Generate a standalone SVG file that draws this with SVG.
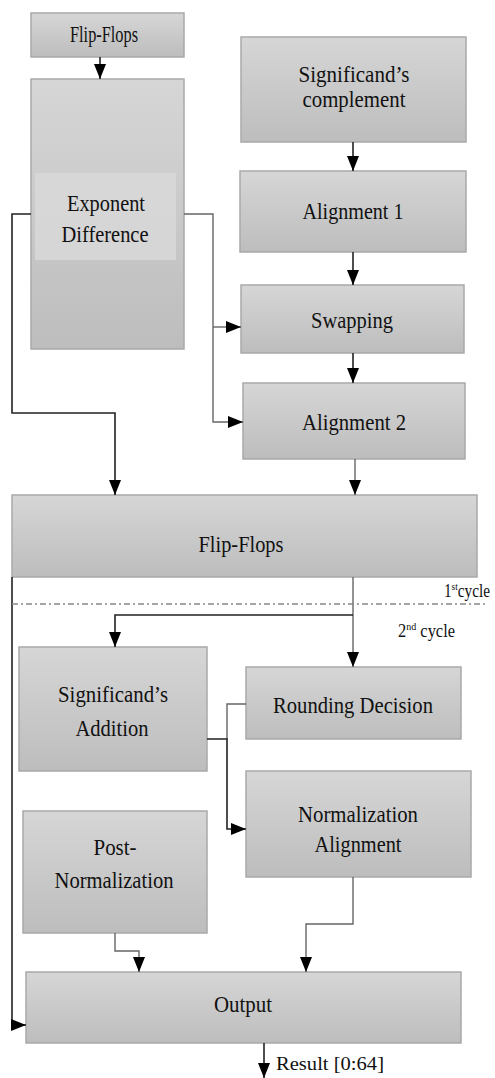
<svg xmlns="http://www.w3.org/2000/svg" width="495" height="1078" viewBox="0 0 495 1078">
<style>
.box{fill:url(#g);stroke:#a9a9a9;stroke-width:1.5}
.t{font-family:"Liberation Serif","Times New Roman","DejaVu Serif",serif;font-size:24px;fill:#111;text-anchor:middle}
.s{font-family:"Liberation Serif","Times New Roman","DejaVu Serif",serif;font-size:18px;fill:#111}
.c{fill:none;stroke:#222;stroke-width:1.6}
.cg{fill:none;stroke:#666;stroke-width:1.4}
</style>
<defs>
<linearGradient id="g" x1="0" y1="0" x2="0" y2="1">
<stop offset="0" stop-color="#d6d6d6"/>
<stop offset="1" stop-color="#bdbdbd"/>
</linearGradient>
<marker id="a" markerUnits="userSpaceOnUse" markerWidth="16" markerHeight="12" refX="15" refY="6" orient="auto">
<path d="M0,0 L15,6 L0,12 Z" fill="#000"/>
</marker>
</defs>
<g id="nodes">
<g id="ff-top"><rect class="box" x="31" y="13" width="153" height="44"/><text class="t" x="104" y="42" font-size="20" textLength="68" lengthAdjust="spacingAndGlyphs">Flip-Flops</text></g>
<g id="expdiff"><rect class="box" x="31" y="79" width="153" height="270"/><rect x="35" y="173" width="141" height="87" fill="#d9d9d9" opacity="0.8"/><text class="t" x="106" y="211" textLength="78" lengthAdjust="spacingAndGlyphs">Exponent</text><text class="t" x="105" y="242" textLength="87" lengthAdjust="spacingAndGlyphs">Difference</text></g>
<g id="sigcomp"><rect class="box" x="241" y="37" width="225" height="105"/><text class="t" x="354" y="82" textLength="111" lengthAdjust="spacingAndGlyphs">Significand’s</text><text class="t" x="354" y="107" textLength="103" lengthAdjust="spacingAndGlyphs">complement</text></g>
<g id="align1"><rect class="box" x="240" y="171" width="226" height="81"/><text class="t" x="353" y="219" textLength="101" lengthAdjust="spacingAndGlyphs">Alignment 1</text></g>
<g id="swap"><rect class="box" x="241" y="285" width="223" height="68"/><text class="t" x="352" y="328" textLength="82" lengthAdjust="spacingAndGlyphs">Swapping</text></g>
<g id="align2"><rect class="box" x="243" y="383" width="222" height="76"/><text class="t" x="354" y="430" textLength="104" lengthAdjust="spacingAndGlyphs">Alignment 2</text></g>
<g id="ff-big"><rect class="box" x="12" y="495" width="465" height="82"/><text class="t" x="241" y="552" textLength="85" lengthAdjust="spacingAndGlyphs">Flip-Flops</text></g>
<g id="sigadd"><rect class="box" x="19" y="647" width="188" height="124"/><text class="t" x="113" y="702" textLength="110" lengthAdjust="spacingAndGlyphs">Significand’s</text><text class="t" x="112" y="736" textLength="73" lengthAdjust="spacingAndGlyphs">Addition</text></g>
<g id="round"><rect class="box" x="246" y="667" width="215" height="72"/><text class="t" x="353" y="713" textLength="160" lengthAdjust="spacingAndGlyphs">Rounding Decision</text></g>
<g id="normalign"><rect class="box" x="246" y="771" width="225" height="106"/><text class="t" x="358" y="822" textLength="120" lengthAdjust="spacingAndGlyphs">Normalization</text><text class="t" x="358" y="852" textLength="87" lengthAdjust="spacingAndGlyphs">Alignment</text></g>
<g id="postnorm"><rect class="box" x="23" y="811" width="184" height="122"/><text class="t" x="115" y="855" textLength="43" lengthAdjust="spacingAndGlyphs">Post-</text><text class="t" x="114" y="888" textLength="119" lengthAdjust="spacingAndGlyphs">Normalization</text></g>
<g id="output"><rect class="box" x="26" y="972" width="435" height="71"/><text class="t" x="243" y="1012" textLength="58" lengthAdjust="spacingAndGlyphs">Output</text></g>
</g>
<g id="connectors">
<path class="c" d="M100,57 V79" marker-end="url(#a)"/>
<path class="c" d="M31,214 H12 V413 H115 V495" marker-end="url(#a)"/>
<path class="cg" d="M184,214 H213 V422 H243" marker-end="url(#a)"/>
<path class="cg" d="M213,327 H241" marker-end="url(#a)"/>
<path class="c" d="M353,142 V171" marker-end="url(#a)"/>
<path class="c" d="M353,252 V285" marker-end="url(#a)"/>
<path class="c" d="M353,353 V383" marker-end="url(#a)"/>
<path class="cg" d="M355,459 V495" marker-end="url(#a)"/>
<path class="cg" d="M353,577 V667" marker-end="url(#a)"/>
<path class="c" d="M353,615 H115 V647" marker-end="url(#a)"/>
<path class="c" d="M12,577 V1025 H26" marker-end="url(#a)"/>
<path class="cg" d="M227,739 V704 H246"/>
<path class="c" d="M207,739 H227 V829 H246" marker-end="url(#a)"/>
<path class="cg" d="M115,933 V951 H139 V972" marker-end="url(#a)"/>
<path class="cg" d="M353,877 V924 H306 V972" marker-end="url(#a)"/>
<path class="c" d="M264,1043 V1078" marker-end="url(#a)"/>
<path d="M12,604 H487" stroke="#888" stroke-width="1.6" stroke-dasharray="6,3,2,3" fill="none"/>
</g>
<g id="labels">
<text class="s" x="444" y="597" textLength="46" lengthAdjust="spacingAndGlyphs">1<tspan font-size="11" dy="-7">st</tspan><tspan dy="7">cycle</tspan></text>
<text class="s" x="398" y="637" textLength="57" lengthAdjust="spacingAndGlyphs">2<tspan font-size="11" dy="-7">nd</tspan><tspan dy="7"> cycle</tspan></text>
<text class="s" x="276" y="1070" font-size="21" textLength="108" lengthAdjust="spacingAndGlyphs">Result [0:64]</text>
</g>
</svg>
